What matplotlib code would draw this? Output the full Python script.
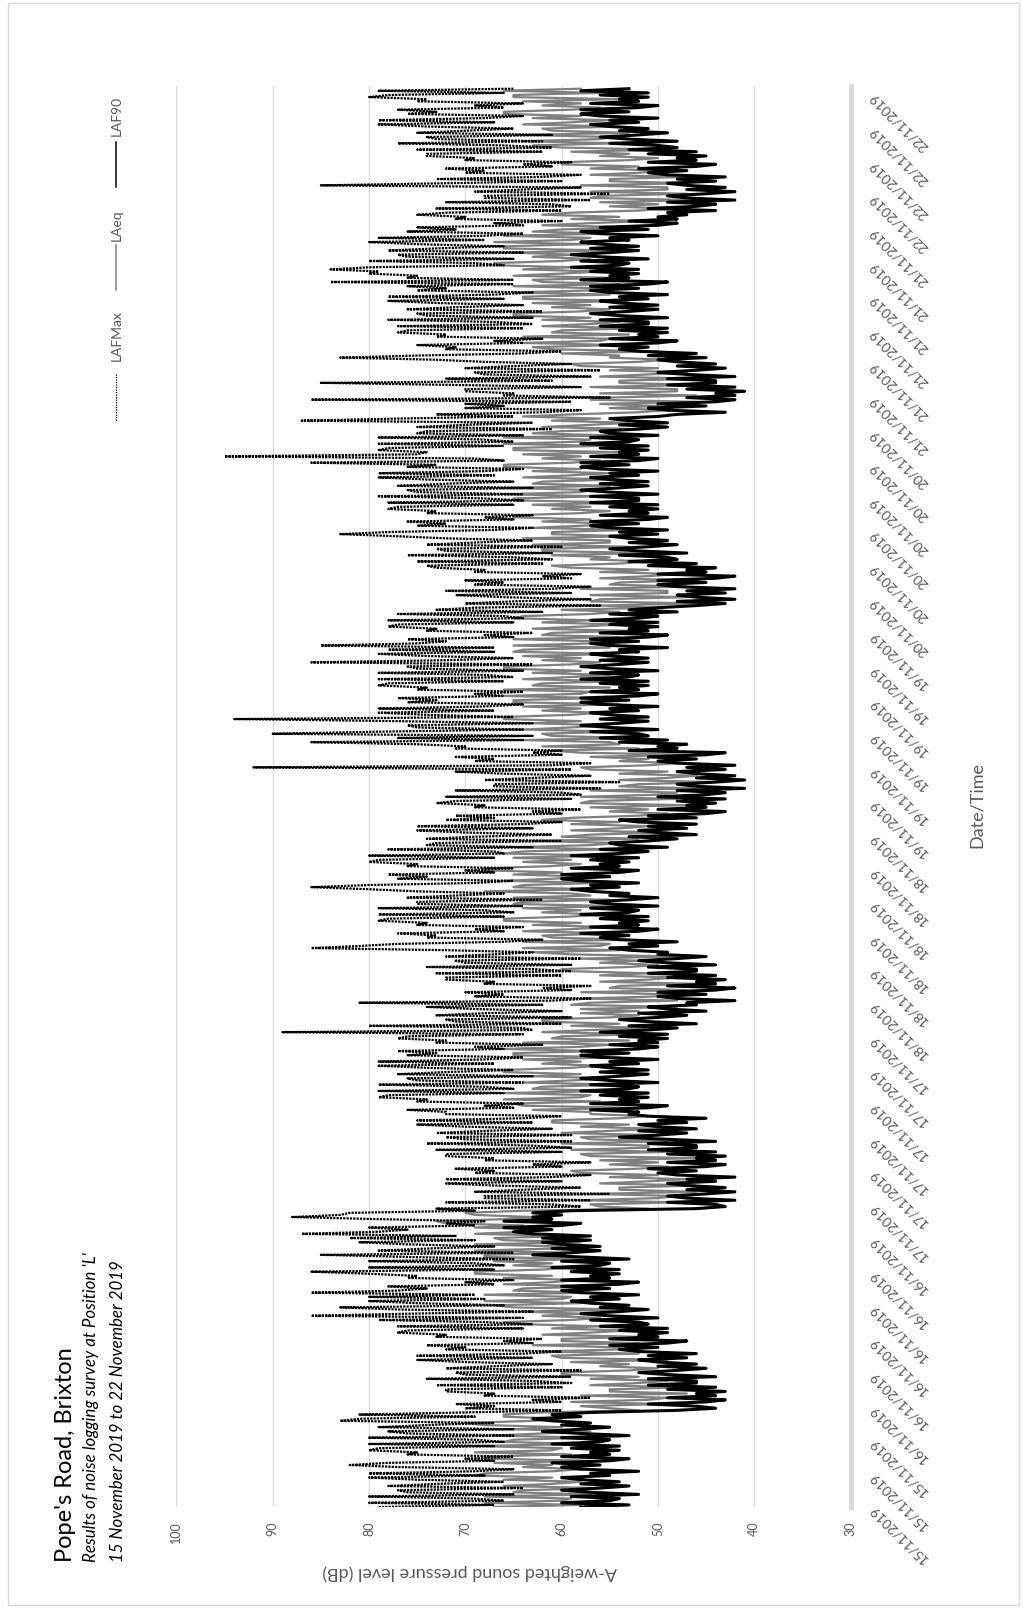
import numpy as np
import pandas as pd
import matplotlib
matplotlib.use("Agg")
import matplotlib.pyplot as plt
import matplotlib.dates as mdates
from matplotlib.lines import Line2D
from matplotlib.patches import Rectangle

plt.rcParams['font.family'] = ['Lato', 'DejaVu Sans']

title = "Pope's Road, Brixton"
subtitle1 = "Results of noise logging survey at Position 'L'"
subtitle2 = "15 November 2019 to 22 November 2019"
y_title = "A-weighted sound pressure level (dB)"
x_title = "Date/Time"
series_names = ["LAFMax", "LAeq", "LAF90"]
db_ticks = [30, 40, 50, 60, 70, 80, 90, 100]
start = "2019-11-15 12:00"
sample_minutes = 15
label_hours = [0, 4, 8, 12, 16, 20]
date_fmt = "%d/%m/%Y"

laf90 = [
58,53,60,55, 54,59,52,57, 60,56,53,58, 54,58,60,55, 57,52,58,60, 56,61,55,53, 60,55,57,54, 59,54,61,56,
55,60,53,58, 62,58,55,60, 57,61,63,58, 61,57,48,44, 46,51,45,43, 49,44,46,43, 49,44,51,46, 46,51,44,49,
52,48,45,50, 46,50,52,47, 51,46,52,54, 50,55,49,47, 55,50,52,49, 54,49,56,51, 52,57,50,55, 58,54,51,56,
53,57,59,54, 57,52,58,60, 55,60,54,52, 60,55,57,54, 59,54,61,56, 55,60,53,58, 63,59,56,61, 56,60,62,57,
62,57,63,65, 61,66,60,58, 66,61,63,60, 63,59,46,43, 44,49,42,47, 49,45,42,47, 43,47,49,44, 47,42,48,50,
46,51,45,43, 49,44,46,43, 49,44,51,46, 46,51,44,49, 54,50,47,52, 46,50,52,47, 50,45,51,53, 52,57,51,49,
57,52,54,51, 56,51,58,53, 52,57,50,55, 58,54,51,56, 51,55,57,52, 55,50,56,58, 53,58,52,50, 55,50,52,49,
54,49,56,51, 48,53,46,51, 54,50,47,52, 45,49,51,46, 47,42,48,50, 45,50,44,42, 49,44,46,43, 49,44,51,46,
46,51,44,49, 52,48,45,50, 49,53,55,50, 53,48,54,56, 53,58,52,50, 57,52,54,51, 56,51,58,53, 52,57,50,55,
57,53,50,55, 53,57,59,54, 57,52,58,60, 55,60,54,52, 59,54,56,53, 57,52,59,54, 51,56,49,54, 55,51,48,53,
46,50,52,47, 51,46,52,54, 46,51,45,43, 50,45,47,44, 48,43,50,45, 43,48,41,46, 48,44,41,46, 42,46,48,43,
47,42,48,50, 46,51,45,43, 53,48,50,47, 54,49,56,51, 52,57,50,55, 58,54,51,56, 51,55,57,52, 55,50,56,58,
53,58,52,50, 57,52,54,51, 56,51,58,53, 52,57,50,55, 58,54,51,56, 51,55,57,52, 54,49,55,57, 52,57,51,49,
56,51,53,50, 55,50,57,52, 50,55,48,53, 50,46,43,48, 42,46,48,43, 47,42,48,50, 45,50,44,42, 50,45,47,44,
51,46,53,48, 49,54,47,52, 55,51,48,53, 49,53,55,50, 54,49,55,57, 52,57,51,49, 56,51,53,50, 55,50,57,52,
52,57,50,55, 58,54,51,56, 51,55,57,52, 55,50,56,58, 53,58,52,50, 57,52,54,51, 56,51,58,53, 52,57,50,55,
56,52,49,54, 49,53,55,50, 48,43,49,51, 45,50,44,42, 47,42,44,41, 47,42,49,44, 44,49,42,47, 50,46,43,48,
44,48,50,45, 51,46,52,54, 51,56,50,48, 55,50,52,49, 54,49,56,51, 51,56,49,54, 57,53,50,55, 50,54,56,51,
54,49,55,57, 52,57,51,49, 58,53,55,52, 57,52,59,54, 53,58,51,56, 59,55,52,57, 52,56,58,53, 55,50,56,58,
51,56,50,48, 53,48,50,47, 49,44,51,46, 44,49,42,47, 49,45,42,47, 43,47,49,44, 48,43,49,51, 47,52,46,44,
51,46,48,45, 51,46,53,48, 50,55,48,53, 56,52,49,54, 51,55,57,52, 55,50,56,58, 53,58,52,50, 57,52,54,51,
56,51,58,53,
]

laeq = [
67,58,68,60, 59,68,57,65, 64,56,66,61, 58,66,61,69, 68,61,58,64, 61,67,57,68, 68,59,69,61, 60,69,58,66,
65,57,67,62, 57,65,60,68, 70,63,60,66, 66,62,52,55, 58,49,59,51, 49,58,47,55, 55,47,57,52, 49,57,52,60,
60,53,50,56, 53,59,49,60, 61,52,62,54, 54,63,52,60, 60,52,62,57, 53,61,56,64, 66,59,56,62, 58,64,54,65,
67,58,68,60, 59,68,57,65, 64,56,66,61, 58,66,61,69, 69,62,59,65, 61,67,57,68, 68,59,69,61, 60,69,58,66,
67,59,69,64, 61,69,64,72, 73,66,63,69, 70,64,51,56, 57,48,58,50, 48,57,46,54, 54,46,56,51, 47,55,50,58,
59,52,49,55, 50,56,46,57, 58,49,59,51, 51,60,49,57, 58,50,60,55, 50,58,53,61, 61,54,51,57, 57,63,53,64,
65,56,66,58, 57,66,55,63, 62,54,64,59, 55,63,58,66, 66,59,56,62, 58,64,54,65, 65,56,66,58, 55,64,53,61,
60,52,62,57, 51,59,54,62, 62,55,52,58, 52,58,48,59, 57,48,58,50, 49,58,47,55, 54,46,56,51, 48,56,51,59,
60,53,50,56, 52,58,48,59, 63,54,64,56, 55,64,53,61, 62,54,64,59, 55,63,58,66, 66,59,56,62, 58,64,54,65,
64,55,65,57, 59,68,57,65, 64,56,66,61, 57,65,60,68, 68,61,58,64, 59,65,55,66, 64,55,65,57, 54,63,52,60,
57,49,59,54, 51,59,54,62, 59,52,49,55, 51,57,47,58, 57,48,58,50, 48,57,46,54, 52,44,54,49, 46,54,49,57,
58,51,48,54, 51,57,47,58, 61,52,62,54, 55,64,53,61, 62,54,64,59, 55,63,58,66, 66,59,56,62, 58,64,54,65,
65,56,66,58, 57,66,55,63, 62,54,64,59, 55,63,58,66, 66,59,56,62, 58,64,54,65, 64,55,65,57, 56,65,54,62,
61,53,63,58, 54,62,57,65, 64,57,54,60, 50,56,46,57, 56,47,57,49, 49,58,47,55, 54,46,56,51, 48,56,51,59,
61,54,51,57, 55,61,51,62, 62,53,63,55, 55,64,53,61, 61,53,63,58, 54,62,57,65, 65,58,55,61, 57,63,53,64,
65,56,66,58, 57,66,55,63, 62,54,64,59, 55,63,58,66, 66,59,56,62, 58,64,54,65, 65,56,66,58, 57,66,55,63,
60,52,62,57, 53,61,56,64, 59,52,49,55, 50,56,46,57, 55,46,56,48, 48,57,46,54, 54,46,56,51, 47,55,50,58,
59,52,49,55, 54,60,50,61, 63,54,64,56, 55,64,53,61, 60,52,62,57, 54,62,57,65, 65,58,55,61, 57,63,53,64,
64,55,65,57, 56,65,54,62, 63,55,65,60, 56,64,59,67, 67,60,57,63, 59,65,55,66, 66,57,67,59, 57,66,55,63,
60,52,62,57, 51,59,54,62, 59,52,49,55, 50,56,46,57, 56,47,57,49, 49,58,47,55, 55,47,57,52, 49,57,52,60,
60,53,50,56, 53,59,49,60, 63,54,64,56, 55,64,53,61, 62,54,64,59, 55,63,58,66, 66,59,56,62, 58,64,54,65,
65,56,66,58,
]

lafmax = [
79,67,80,66, 69,80,65,76, 77,64,78,73, 66,75,80,68, 80,69,65,77, 82,78,67,70, 65,76,75,80, 79,67,80,66,
69,80,65,76, 78,65,79,74, 67,83,81,69, 81,70,60,70, 67,71,60,63, 57,68,67,72, 72,60,73,59, 63,74,59,70,
71,58,72,67, 61,70,75,63, 75,64,60,72, 70,74,63,66, 62,73,72,77, 76,64,77,63, 68,79,64,86, 76,63,77,83,
66,75,80,68, 80,69,86,77, 74,78,67,70, 65,76,75,80, 86,67,80,66, 69,80,65,76, 85,65,79,74, 67,76,81,69,
82,71,87,79, 76,80,69,72, 68,79,88,83, 82,69,73,58, 61,72,57,68, 68,55,69,64, 58,67,72,60, 72,61,57,69,
67,71,60,63, 57,68,67,72, 72,60,73,59, 63,74,59,70, 72,59,73,68, 61,70,75,63, 75,64,60,72, 72,76,65,68,
64,75,74,79, 78,66,79,65, 68,79,64,75, 76,63,77,72, 65,74,79,67, 79,68,64,76, 73,77,66,69, 62,73,72,77,
76,64,89,63, 64,80,60,71, 72,59,73,68, 60,69,74,62, 81,61,57,69, 66,70,59,62, 57,68,67,72, 72,60,73,59,
63,74,59,70, 71,58,72,67, 63,72,86,81, 77,66,62,74, 73,77,66,69, 64,75,74,79, 78,66,79,65, 68,79,64,75,
75,62,76,71, 66,75,80,86, 80,69,65,77, 74,78,67,70, 65,76,75,80, 79,67,80,66, 67,78,63,74, 73,60,74,69,
61,70,75,63, 75,64,60,72, 67,71,60,63, 58,69,68,73, 71,59,72,58, 60,71,56,67, 67,54,68,63, 57,66,71,59,
92,61,57,69, 67,71,60,63, 60,71,70,75, 86,64,77,63, 90,79,64,75, 76,63,77,94, 65,74,79,67, 79,68,64,76,
73,77,66,69, 64,75,74,79, 78,66,79,65, 68,79,64,75, 76,63,86,72, 65,74,79,67, 78,67,85,75, 72,76,65,68,
63,74,73,78, 77,65,78,64, 66,77,62,73, 69,56,70,65, 57,66,71,59, 72,61,57,69, 66,70,59,62, 58,69,68,73,
74,62,75,61, 65,76,61,72, 73,60,74,69, 63,72,77,83, 78,67,63,75, 72,76,65,68, 63,74,73,78, 77,65,78,64,
68,79,64,75, 76,63,77,72, 65,74,79,67, 79,68,64,76, 73,86,66,69, 95,75,74,79, 78,66,79,65, 68,79,64,75,
74,61,75,70, 63,87,77,65, 73,62,58,70, 66,70,59,86, 55,66,65,70, 70,58,71,85, 61,72,57,68, 69,56,70,65,
59,68,73,83, 75,64,60,72, 71,75,64,67, 62,73,72,77, 76,64,77,63, 67,78,63,74, 75,62,76,71, 64,73,78,66,
78,67,63,75, 72,76,65,84, 65,76,75,80, 79,84,80,66, 69,80,65,76, 77,64,78,73, 66,75,80,68, 79,68,64,76,
71,75,64,67, 60,71,70,75, 72,60,73,59, 61,72,57,68, 68,55,69,64, 58,85,72,60, 73,62,58,70, 68,72,61,64,
59,70,69,74, 74,62,75,61, 66,77,62,73, 74,61,75,70, 65,74,79,67, 79,68,64,76, 73,77,66,69, 64,75,74,80,
78,66,79,65,
]

W, H = 1023, 1609
fig = plt.figure(figsize=(W / 100, H / 100), dpi=100)
fig.patch.set_facecolor('white')

def fx(px):
    return px / W

def fy(py):
    return 1 - py / H

ax_left, ax_right, ax_top, ax_bottom = 176.4, 850.5, 86, 1507
ax = fig.add_axes([fx(ax_left), fy(ax_bottom), fx(ax_right - ax_left), (ax_bottom - ax_top) / H])

t0 = pd.Timestamp(start)

def times(n):
    return pd.date_range(t0, periods=n, freq=f"{sample_minutes}min").to_pydatetime()

max_style = dict(color='black', lw=1.6, ls=(0, (1.0, 0.5)))
eq_style = dict(color='#808080', lw=1.6)
f90_style = dict(color='black', lw=2.2)

ax.plot(laeq, times(len(laeq)), zorder=2, **eq_style)
ax.plot(lafmax, times(len(lafmax)), zorder=3, **max_style)
ax.plot(laf90, times(len(laf90)), zorder=4, **f90_style)

ax.set_xlim(max(db_ticks), min(db_ticks))
ax.set_ylim(t0.to_pydatetime(), (t0 + pd.Timedelta(hours=169.07)).to_pydatetime())
ax.set_xticks(db_ticks)
ax.grid(axis='x', color='#d9d9d9', lw=0.9)
ax.grid(axis='y', visible=False)
ax.set_axisbelow(True)
for s in ['left', 'top', 'bottom']:
    ax.spines[s].set_visible(False)
ax.spines['right'].set_color('#d9d9d9')
ax.spines['right'].set_linewidth(3.6)
ax.spines['right'].set_zorder(1)

ax.tick_params(axis='x', length=0, pad=10.5, labelsize=9, labelcolor='#595959', labelrotation=90)

ax.yaxis.set_major_locator(mdates.HourLocator(byhour=label_hours))
ax.yaxis.set_major_formatter(mdates.DateFormatter(date_fmt))
ax.yaxis.tick_right()
ax.tick_params(axis='y', length=0, pad=15, labelsize=10, labelcolor='#595959')
for lab in ax.get_yticklabels():
    lab.set_rotation(135)
    lab.set_ha('right')
    lab.set_va('center')
    lab.set_rotation_mode('anchor')

# titles
fig.text(fx(65), fy(1562), title, rotation=90, ha='center', va='bottom', fontsize=17, color='black')
fig.text(fx(91), fy(1562), subtitle1, rotation=90, ha='center', va='bottom', fontsize=12.2,
         style='italic', color='black')
fig.text(fx(118), fy(1562), subtitle2, rotation=90, ha='center', va='bottom', fontsize=12.2,
         style='italic', color='black')

fig.text(fx(977), fy(805), x_title, rotation=90, ha='center', va='center', fontsize=13, color='#595959')
fig.text(fx(470), fy(1572), y_title, rotation=180, ha='center', va='center', fontsize=13, color='#595959')

# legend (manual, rotated)
leg_x = 116
leg_items = [
    (series_names[0], dict(color='black', lw=0.9, ls=(0, (1.0, 1.0))), (374, 421), 336),
    (series_names[1], dict(color='#808080', lw=1.1), (245, 290), 225),
    (series_names[2], dict(color='black', lw=1.1), (142, 187), 116),
]
for name, style, (ya, yb), ty in leg_items:
    fig.add_artist(Line2D([fx(leg_x), fx(leg_x)], [fy(ya), fy(yb)], transform=fig.transFigure, **style))
    fig.text(fx(leg_x + 1), fy(ty), name, rotation=90, ha='center', va='center', fontsize=10, color='#595959')

# chart border
fig.add_artist(Rectangle((fx(7.5), fy(1605)), fx(1019 - 7.5), (1605 - 2.5) / H, transform=fig.transFigure,
                         fill=False, edgecolor='#d9d9d9', lw=1.0))

fig.savefig("out.png", dpi=100, facecolor='white')
